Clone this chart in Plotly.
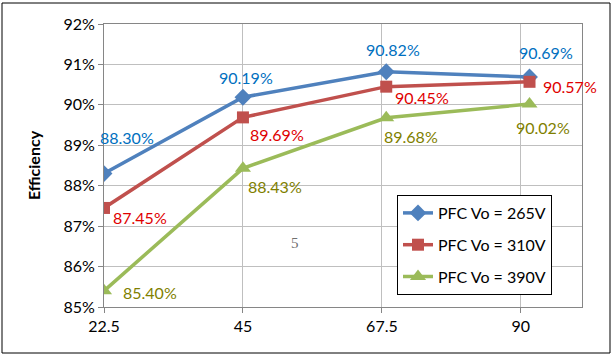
import plotly.graph_objects as go

x_vals = [22.5, 45, 68.2, 91.4]
tick_vals = [22.5, 45, 67.5, 90]
tick_text = ["22.5", "45", "67.5", "90"]
y_265 = [88.30, 90.19, 90.82, 90.69]
y_310 = [87.45, 89.69, 90.45, 90.57]
y_390 = [85.40, 88.43, 89.68, 90.02]
names = ["PFC Vo = 265V", "PFC Vo = 310V", "PFC Vo = 390V"]

FONT = "Lato"
series = [
    (names[0], y_265, "#4F81BD", "diamond", 13, "#0070C0",
     [(23, -36), (3, -20), (7, -22), (16, -24)]),
    (names[1], y_310, "#C0504D", "square", 12, "#E00000",
     [(36, 10), (34, 17), (36, 11), (40, 5)]),
    (names[2], y_390, "#9BBB59", "triangle-up", 14, "#7F7F00",
     [(46, 2), (32, 18), (25, 19), (13, 23)]),
]

fig = go.Figure()
annotations = []
for i, (name, ys, col, sym, msz, lcol, offs) in enumerate(series):
    fig.add_trace(go.Scatter(
        x=x_vals, y=ys, mode="lines+markers", name=name,
        line=dict(color=col, width=3.5),
        marker=dict(symbol=sym, size=msz, color=col),
        legendgroup=f"g{i}",
    ))
    for xv, yv, (dx, dy) in zip(x_vals, ys, offs):
        annotations.append(dict(
            x=xv, y=yv, xref="x", yref="y", text=f"{yv:.2f}%",
            showarrow=False, xshift=dx, yshift=-dy,
            font=dict(family=FONT, size=16, color=lcol),
        ))

W, H = 613, 355
L, R, T, B = 104, 31, 24, 48
pw, ph = W - L - R, H - T - B

def px2paper(xp, yp):
    return (xp - L) / pw, 1 - (yp - T) / ph

ax5, ay5 = px2paper(295, 253)
annotations.append(dict(
    x=ax5, y=ay5, xref="paper", yref="paper",
    text="5", showarrow=False,
    font=dict(family="Liberation Serif", size=15, color="#707070"),
))

x0, y0 = px2paper(2, 3)
x1, y1 = px2paper(610, 353)
lx, ly = px2paper(397, 195)

fig.update_layout(
    width=W, height=H,
    margin=dict(l=L, r=R, t=T, b=B, autoexpand=False),
    paper_bgcolor="white", plot_bgcolor="white",
    font=dict(family=FONT, size=16, color="#000000"),
    showlegend=True,
    legend=dict(
        x=lx, y=ly, xanchor="left", yanchor="top",
        bgcolor="white", bordercolor="#000000", borderwidth=1,
        font=dict(family=FONT, size=16, color="#000000"),
        traceorder="grouped", tracegroupgap=8,
    ),
    xaxis=dict(
        range=[22.5, 99.9], tickvals=tick_vals, ticktext=tick_text,
        showgrid=True, gridcolor="#BFBFBF", gridwidth=1,
        showline=True, linecolor="#868686", mirror=True,
        ticks="outside", ticklen=5, tickcolor="#868686",
        zeroline=False, tickfont=dict(family=FONT, size=16),
    ),
    yaxis=dict(
        range=[85, 92], dtick=1, ticksuffix="%",
        showgrid=True, gridcolor="#BFBFBF", gridwidth=1,
        showline=True, linecolor="#868686", mirror=True,
        ticks="outside", ticklen=5, tickcolor="#868686",
        zeroline=False, tickfont=dict(family=FONT, size=16),
        title=dict(text="<b>Efficiency</b>", font=dict(family=FONT, size=16), standoff=18),
    ),
    annotations=annotations,
    shapes=[dict(type="rect", xref="paper", yref="paper",
                 x0=x0, y0=y0, x1=x1, y1=y1,
                 line=dict(color="#000000", width=1), layer="below")],
)

fig.write_html("out.html", config={"displayModeBar": False},
               post_script="document.body.style.margin='0px';document.body.style.overflow='hidden';")
